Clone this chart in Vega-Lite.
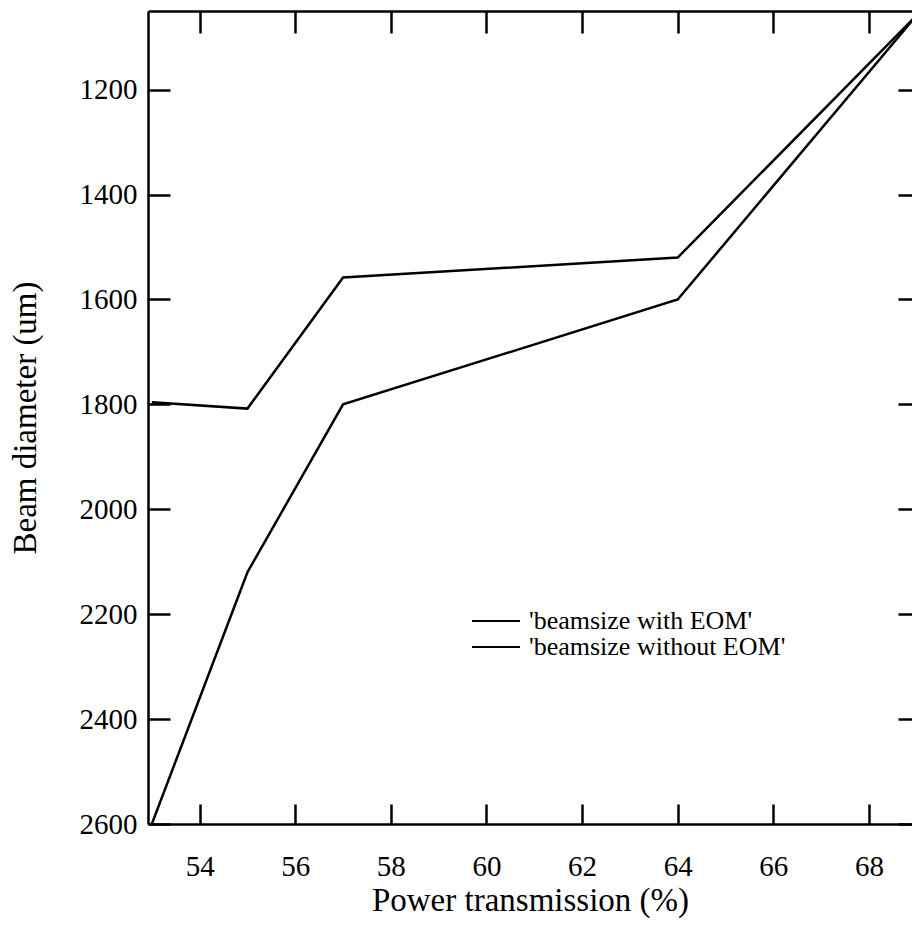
{
  "$schema": "https://vega.github.io/schema/vega-lite/v6.json",
  "width": 764,
  "height": 813,
  "autosize": {"type": "none"},
  "padding": {"left": 148, "top": 11, "right": 0, "bottom": 101},
  "background": "white",
  "config": {
    "view": {"stroke": null},
    "font": "Liberation Serif",
    "axis": {"grid": false, "domainColor": "black", "tickColor": "black", "labelColor": "black", "titleColor": "black", "domainWidth": 2.5, "tickWidth": 2.5, "labelFont": "Liberation Serif", "titleFont": "Liberation Serif", "labelFontSize": 29, "titleFontSize": 33, "titleFontWeight": "normal"}
  },
  "data": {
    "values": [
      {"series": "'beamsize with EOM'", "x": 53, "y": 1796},
      {"series": "'beamsize with EOM'", "x": 55, "y": 1808},
      {"series": "'beamsize with EOM'", "x": 57, "y": 1558},
      {"series": "'beamsize with EOM'", "x": 64, "y": 1520},
      {"series": "'beamsize with EOM'", "x": 69, "y": 1058},
      {"series": "'beamsize without EOM'", "x": 53, "y": 2600},
      {"series": "'beamsize without EOM'", "x": 55, "y": 2120},
      {"series": "'beamsize without EOM'", "x": 57, "y": 1800},
      {"series": "'beamsize without EOM'", "x": 64, "y": 1600},
      {"series": "'beamsize without EOM'", "x": 69, "y": 1058}
    ]
  },
  "resolve": {"axis": {"x": "independent", "y": "independent"}},
  "layer": [
    {
      "mark": {"type": "line", "clip": true, "strokeWidth": 2.5},
      "encoding": {
        "x": {"field": "x", "type": "quantitative",
          "scale": {"domain": [52.92, 68.9], "nice": false, "zero": false},
          "axis": {"orient": "bottom", "values": [54, 56, 58, 60, 62, 64, 66, 68], "format": "d", "labelFontSize": 29, "tickSize": -20, "labelPadding": 48, "labelBaseline": "top", "title": "Power transmission (%)", "titleY": 76, "titleBaseline": "middle"}},
        "y": {"field": "y", "type": "quantitative",
          "scale": {"domain": [1050, 2600], "reverse": true, "nice": false, "zero": false},
          "axis": {"orient": "left", "values": [1200, 1400, 1600, 1800, 2000, 2200, 2400, 2600], "format": "d", "labelFontSize": 29, "tickSize": -22, "labelPadding": 33, "labelBaseline": "middle", "title": "Beam diameter (um)", "titleX": -123, "titleBaseline": "middle"}},
        "color": {"field": "series", "type": "nominal",
          "scale": {"range": ["black", "black"]},
          "legend": {"title": null, "orient": "none", "legendX": 335, "legendY": 597, "symbolType": "M-4,0L4,0", "symbolSize": 144, "symbolStrokeWidth": 2, "labelFontSize": 26, "labelFont": "Liberation Serif", "labelColor": "black", "labelLimit": 500, "labelOffset": 20, "rowPadding": 0}}
      }
    },
    {
      "mark": {"type": "line", "clip": true, "strokeOpacity": 0},
      "encoding": {
        "x": {"field": "x", "type": "quantitative",
          "axis": {"orient": "top", "values": [54, 56, 58, 60, 62, 64, 66, 68], "tickSize": -22, "labels": false, "title": null}},
        "y": {"field": "y", "type": "quantitative",
          "axis": {"orient": "right", "values": [1200, 1400, 1600, 1800, 2000, 2200, 2400, 2600], "tickSize": -14, "labels": false, "domain": false, "title": null}},
        "detail": {"field": "series"}
      }
    }
  ]
}
